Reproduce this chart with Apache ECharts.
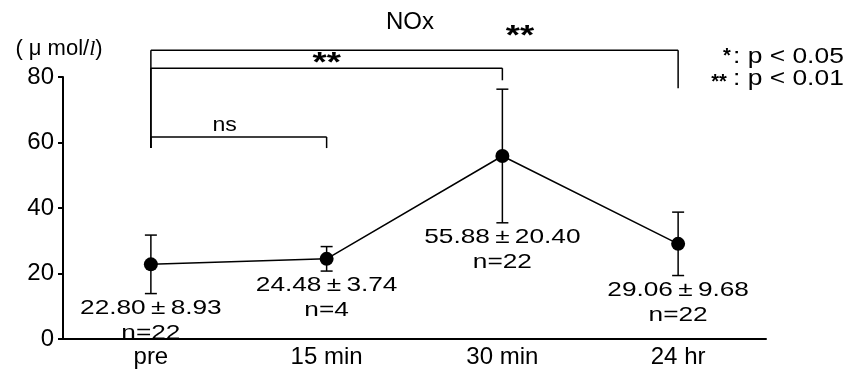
<!DOCTYPE html>
<html>
<head>
<meta charset="utf-8">
<script src="https://cdn.jsdelivr.net/npm/echarts@6/dist/echarts.min.js"></script>
<style>
  html, body { margin: 0; padding: 0; background: #fff; }
  #chart { width: 854px; height: 374px; }
</style>
</head>
<body>
<div id="chart"></div>
<script>
// данные графика
const categories = ['pre', '15 min', '30 min', '24 hr'];
const means = [22.80, 24.48, 55.88, 29.06];
const sds = [8.93, 3.74, 20.40, 9.68];
const counts = [22, 4, 22, 22];
const yTicks = [0, 20, 40, 60, 80];

// скобки значимости
const bracketFrom = [0, 0, 0];
const bracketTo = [1, 2, 3];
const bracketLevel = [61.7, 82.7, 88.2];
const bracketDrop = [58.3, 79.0, 76.6];
const bracketLabel = ['ns', '**', '**'];
const bracketLabelX = [0.42, 1.0, 2.1];
const bracketLabelY = [65.3, 85.2, 93.4];

const FONT = 'Liberation Sans';
const chart = echarts.init(document.getElementById('chart'), null, { renderer: 'canvas' });

const errData = means.map((m, i) => [i, m, sds[i], counts[i]]);
const brData = bracketFrom.map((f, i) => [f, bracketTo[i], bracketLevel[i], bracketDrop[i], bracketLabelX[i], bracketLabelY[i]]);
const leftEnd = Math.min.apply(null, bracketDrop);

chart.setOption({
    animation: false,
    backgroundColor: '#fff',
    title: {
        text: 'NOx', left: 405, top: 5, textAlign: 'center',
        textStyle: { fontFamily: FONT, fontSize: 24, fontWeight: 'normal', color: '#000' }
    },
    grid: { left: 63, right: 88, top: 77, bottom: 35 },
    xAxis: {
        type: 'category', data: categories, boundaryGap: true,
        axisLine: { lineStyle: { color: '#000', width: 2 } },
        axisTick: { inside: true, length: 5, lineStyle: { color: '#000', width: 1.5 } },
        axisLabel: { fontFamily: FONT, fontSize: 24, color: '#000', margin: 6 }
    },
    yAxis: {
        type: 'value', min: yTicks[0], max: yTicks[yTicks.length - 1], interval: yTicks[1] - yTicks[0],
        name: '( μ mol/{i|l})', nameLocation: 'end', nameGap: 17,
        nameTextStyle: {
            fontFamily: FONT, fontSize: 22, color: '#000', align: 'center', padding: [0, 8, 0, 0],
            rich: { i: { fontFamily: 'Liberation Serif', fontStyle: 'italic', fontSize: 22, color: '#000' } }
        },
        axisLine: { show: true, lineStyle: { color: '#000', width: 2 } },
        axisTick: { show: true, length: 5, lineStyle: { color: '#000', width: 2 } },
        splitLine: { show: false },
        axisLabel: { fontFamily: FONT, fontSize: 24, color: '#000', margin: 9 }
    },
    graphic: [
        { type: 'text', x: 727, y: 56, style: { text: '*', font: 'bold 20px ' + FONT, fill: '#000', align: 'center', verticalAlign: 'middle' } },
        { type: 'text', x: 733, y: 57, scaleX: 1.2, style: { text: ': p < 0.05', font: '22px ' + FONT, fill: '#000', verticalAlign: 'middle' } },
        { type: 'text', x: 719, y: 82, style: { text: '**', font: 'bold 20px ' + FONT, fill: '#000', align: 'center', verticalAlign: 'middle' } },
        { type: 'text', x: 733, y: 79, scaleX: 1.2, style: { text: ': p < 0.01', font: '22px ' + FONT, fill: '#000', verticalAlign: 'middle' } }
    ],
    series: [
        {
            type: 'line', data: means,
            symbol: 'circle', symbolSize: 14,
            itemStyle: { color: '#000' },
            lineStyle: { color: '#000', width: 1.5 },
            z: 3
        },
        {
            type: 'custom', data: errData, z: 2,
            renderItem: function (params, api) {
                const i = api.value(0), m = api.value(1), s = api.value(2), n = api.value(3);
                const top = api.coord([i, m + s]);
                const bot = api.coord([i, m - s]);
                const w = 6;
                const st = { stroke: '#000', lineWidth: 1.5 };
                return {
                    type: 'group',
                    children: [
                        { type: 'line', shape: { x1: top[0], y1: top[1], x2: bot[0], y2: bot[1] }, style: st },
                        { type: 'line', shape: { x1: top[0] - w, y1: top[1], x2: top[0] + w, y2: top[1] }, style: st },
                        { type: 'line', shape: { x1: bot[0] - w, y1: bot[1], x2: bot[0] + w, y2: bot[1] }, style: st },
                        {
                            type: 'text', x: bot[0], y: bot[1] + 2, scaleX: 1.25,
                            style: {
                                text: m.toFixed(2) + '\u2009±\u2009' + s.toFixed(2) + '\nn=' + n,
                                font: '21px ' + FONT, fill: '#000',
                                align: 'center', verticalAlign: 'top', lineHeight: 25
                            }
                        }
                    ]
                };
            }
        },
        {
            type: 'custom', data: brData, clip: false, z: 1,
            renderItem: function (params, api) {
                const f = api.value(0), t = api.value(1), lv = api.value(2), dr = api.value(3);
                const a = api.coord([f, lv]);
                const b = api.coord([t, lv]);
                const aEnd = api.coord([f, leftEnd]);
                const bEnd = api.coord([t, dr]);
                // категориальная ось округляет дробные индексы, считаем сами
                const step = api.coord([1, lv])[0] - api.coord([0, lv])[0];
                const lx = api.coord([0, lv])[0] + step * api.value(4);
                const ly = api.coord([0, api.value(5)])[1];
                const st = { stroke: '#000', lineWidth: 1.5 };
                const label = bracketLabel[params.dataIndex];
                const star = label !== 'ns';
                return {
                    type: 'group',
                    children: [
                        { type: 'line', shape: { x1: a[0], y1: a[1], x2: b[0], y2: b[1] }, style: st },
                        { type: 'line', shape: { x1: a[0], y1: a[1], x2: aEnd[0], y2: aEnd[1] }, style: st },
                        { type: 'line', shape: { x1: b[0], y1: b[1], x2: bEnd[0], y2: bEnd[1] }, style: st },
                        {
                            type: 'text', x: lx, y: ly + (star ? 3 : 0), scaleX: star ? 1.3 : 1.1,
                            style: {
                                text: label,
                                font: (star ? 'bold 28px ' : '21px ') + FONT,
                                fill: '#000', align: 'center', verticalAlign: 'middle'
                            }
                        }
                    ]
                };
            }
        }
    ]
});
</script>
</body>
</html>
